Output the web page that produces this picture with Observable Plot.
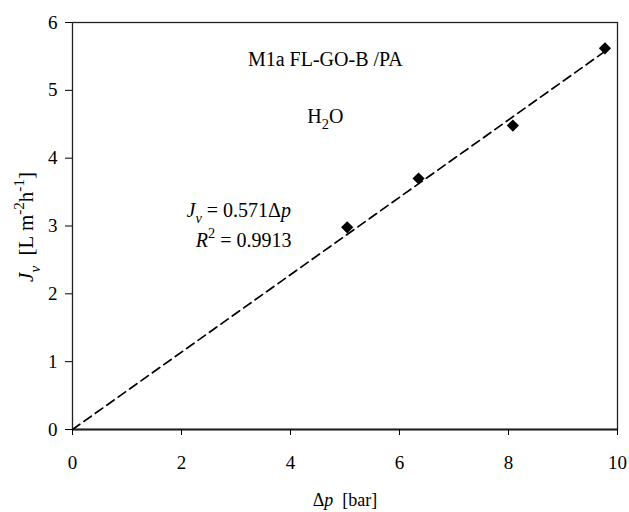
<!DOCTYPE html>
<html><head><meta charset="utf-8">
<script src="https://cdn.jsdelivr.net/npm/d3@7"></script>
<script src="https://cdn.jsdelivr.net/npm/@observablehq/plot@0.6"></script>
<style>
body{margin:0;background:#fff}
#chart svg, #chart svg text, #chart svg tspan{font-family:"Liberation Serif","Times New Roman",serif !important;}
</style>
</head><body><div id="chart"></div>
<script>
// measured data
const pressure = [5.04, 6.35, 8.08, 9.77];
const flux = [2.98, 3.70, 4.48, 5.62];
// trend line (Jv = 0.571 Δp) endpoints
const trendX = [0, 9.78];
const trendY = [0, 5.58];
// ticks
const xTicks = [0, 2, 4, 6, 8, 10];
const yTicks = [0, 1, 2, 3, 4, 5, 6];
// annotations
const noteText = ["M1a FL-GO-B /PA", "H2O", "Jv = 0.571Δp", "R2 = 0.9913"];
const noteX = [4.64, 4.64, 3.05, 3.14];
const noteY = [5.45, 4.62, 3.22, 2.78];
const xLabel = "Δp  [bar]";
const yLabel = "Jv [L m-2h-1]";

const points = pressure.map((p, i) => ({x: p, y: flux[i]}));
const trend = trendX.map((x, i) => ({x, y: trendY[i]}));
const notes = noteText.map((t, i) => ({t, x: noteX[i], y: noteY[i]}));

const plot = Plot.plot({
  width: 629, height: 512,
  marginLeft: 72, marginRight: 12, marginTop: 22, marginBottom: 83,
  style: {fontSize: "19px", color: "black", background: "white"},
  x: {domain: [0, 10]},
  y: {domain: [0, 6]},
  marks: [
    Plot.frame({stroke: "#222", strokeWidth: 1.3}),
    Plot.ruleY([0], {stroke: "#222", strokeWidth: 2}),
    Plot.axisX({ticks: xTicks, tickSize: 6, tickPadding: 20, label: null, tickFormat: d => String(d), fontSize: 19}),
    Plot.axisY({ticks: yTicks, tickSize: 7, tickPadding: 8, label: null, tickFormat: d => String(d), fontSize: 19}),
    Plot.line(trend, {x: "x", y: "y", stroke: "black", strokeWidth: 1.7, strokeDasharray: "9,5"}),
    Plot.dot(points, {x: "x", y: "y", symbol: "diamond2", r: 5.5, fill: "black", stroke: "none"}),
    Plot.text(notes, {x: "x", y: "y", text: "t", fontSize: 20, fill: "black", textAnchor: "middle"}),
    Plot.text([xLabel], {frameAnchor: "bottom", dy: 76, fontSize: 18, fill: "black", textAnchor: "middle"}),
    Plot.text([yLabel], {frameAnchor: "left", dx: -46, dy: 1, rotate: -90, fontSize: 21, fill: "black", textAnchor: "middle"})
  ]
});
document.getElementById("chart").appendChild(plot);

// rich text: subscripts, superscripts, italics
function rich(el, parts) {
  while (el.firstChild) el.removeChild(el.firstChild);
  let shift = 0;
  for (const [txt, kind] of parts) {
    const ts = document.createElementNS("http://www.w3.org/2000/svg", "tspan");
    const small = kind.includes("sub") || kind.includes("sup");
    let target = 0;
    if (kind.includes("sub")) target = 0.3;
    if (kind.includes("sup")) target = -0.45;
    const dy = target - shift;
    if (small) ts.setAttribute("font-size", "72%");
    if (dy !== 0) ts.setAttribute("dy", (dy * (small ? 1 / 0.72 : 1)) + "em");
    shift = target;
    if (kind.includes("i")) ts.setAttribute("font-style", "italic");
    ts.textContent = txt;
    el.appendChild(ts);
  }
  if (shift !== 0) {
    const ts = document.createElementNS("http://www.w3.org/2000/svg", "tspan");
    ts.setAttribute("dy", (-shift) + "em");
    ts.textContent = "\u200B";
    el.appendChild(ts);
  }
}
const richMap = {
  "H2O": [["H", ""], ["2", "sub"], ["O", ""]],
  "Jv = 0.571Δp": [["J", "i"], ["v", "isub"], [" = 0.571Δ", ""], ["p", "i"]],
  "R2 = 0.9913": [["R", "i"], ["2", "sup"], [" = 0.9913", ""]],
  "Jv [L m-2h-1]": [["J", "i"], ["v", "isub"], ["\u00A0\u00A0[L m", ""], ["-2", "sup"], ["h", ""], ["-1", "sup"], ["]", ""]],
  "Δp  [bar]": [["Δ", ""], ["p", "i"], ["\u00A0\u00A0[bar]", ""]]
};
plot.querySelectorAll("text").forEach(el => {
  const key = el.textContent;
  if (richMap[key]) rich(el, richMap[key]);
});
</script>
</body></html>
